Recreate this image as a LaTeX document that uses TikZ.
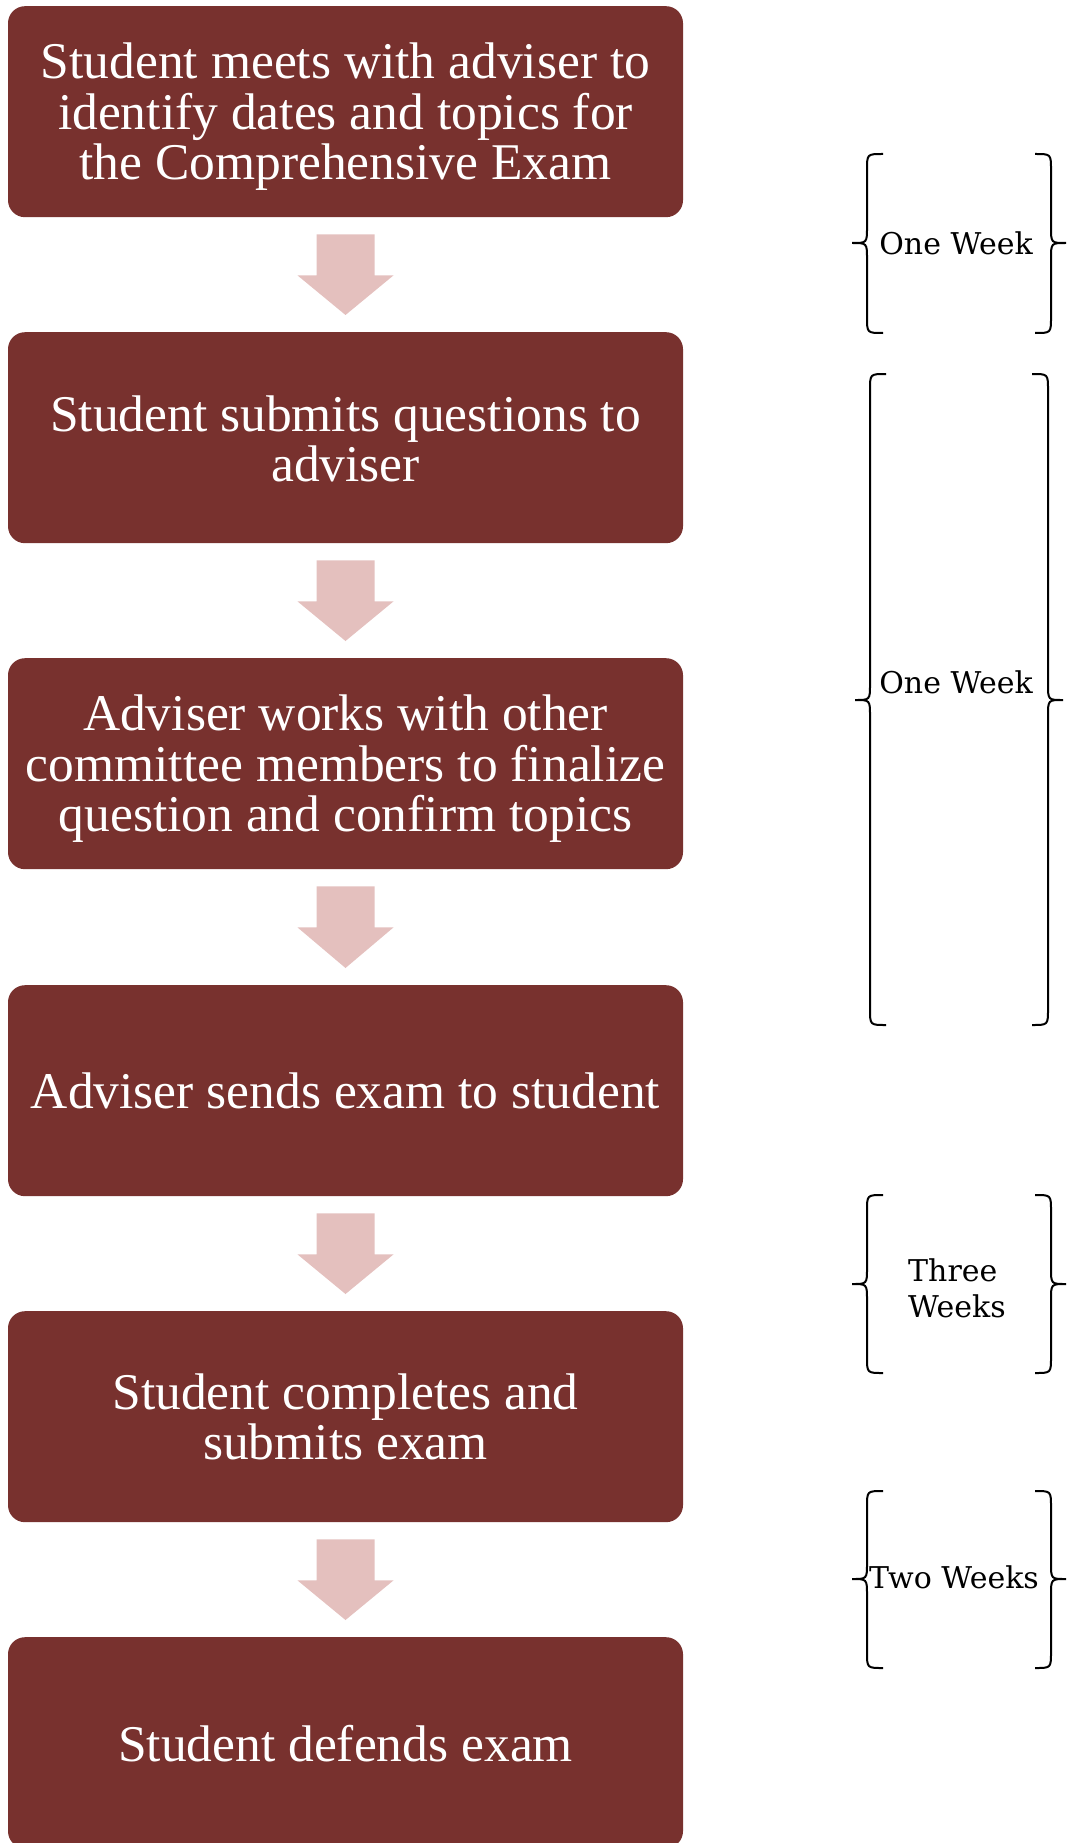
\documentclass[tikz,border=0pt]{standalone}
\usepackage{fontspec}
\setmainfont{Liberation Serif}
\newfontfamily\bracefont{DejaVu Serif}
\usetikzlibrary{calc}
\definecolor{boxred}{RGB}{120,49,46}
\definecolor{arrowpink}{RGB}{228,192,190}
\tikzset{
  stepbox/.style={fill=boxred, draw=none, rounded corners=17pt, minimum width=675pt,
    minimum height=211pt, inner sep=0pt, anchor=north},
  boxtext/.style={text=white, align=center, inner sep=0pt,
    font=\fontsize{51.5}{50.5}\selectfont},
  bracelabel/.style={font=\bracefont\fontsize{30}{36}\selectfont, inner sep=0pt, anchor=base},
  braceline/.style={line width=2pt, black},
}
\newcommand\blockarrow[2]{%
  \fill[arrowpink] ($(#1.south)+(-29,17)$) -- ($(#1.south)+(29,17)$) -- ($(#1.south)+(29,58)$)
    -- ($(#1.south)+(48,58)$) -- ($(#2.north)+(0,-17)$) -- ($(#1.south)+(-48,58)$)
    -- ($(#1.south)+(-29,58)$) -- cycle;}
\newcommand\leftbr[4]{%
  \draw[braceline] ({#1+16},#2) .. controls (#1,#2) .. (#1,{#2+16}) -- (#1,{#3-16})
    .. controls (#1,#3) .. ({#1-15},#3) .. controls (#1,#3) .. (#1,{#3+16})
    -- (#1,{#4-16}) .. controls (#1,#4) .. ({#1+16},#4);}
\newcommand\rightbr[4]{%
  \draw[braceline] ({#1-16},#2) .. controls (#1,#2) .. (#1,{#2+16}) -- (#1,{#3-16})
    .. controls (#1,#3) .. ({#1+15},#3) .. controls (#1,#3) .. (#1,{#3+16})
    -- (#1,{#4-16}) .. controls (#1,#4) .. ({#1-16},#4);}
\begin{document}
\begin{tikzpicture}[x=1pt,y=-1pt]
\useasboundingbox (0,0) rectangle (1067,1843);
\clip (0,0) rectangle (1067,1843);
\node[stepbox] (b1) at (345.5,6) {};
\node[stepbox] (b2) at (345.5,332) {};
\node[stepbox] (b3) at (345.5,658) {};
\node[stepbox] (b4) at (345.5,985) {};
\node[stepbox] (b5) at (345.5,1311) {};
\node[stepbox] (b6) at (345.5,1637) {};
\node[boxtext, yshift=-5pt] (t1) at (b1.center) {Student meets with adviser to\\identify dates and topics for\\the Comprehensive Exam};
\node[boxtext, yshift=-1pt] (t2) at (b2.center) {Student submits questions to\\adviser};
\node[boxtext, yshift=-5pt] (t3) at (b3.center) {Adviser works with other\\committee members to finalize\\question and confirm topics};
\node[boxtext] (t4) at (b4.center) {Adviser sends exam to student};
\node[boxtext] (t5) at (b5.center) {Student completes and\\submits exam};
\node[boxtext, yshift=-1pt] (t6) at (b6.center) {Student defends exam};
\blockarrow{b1}{b2}
\blockarrow{b2}{b3}
\blockarrow{b3}{b4}
\blockarrow{b4}{b5}
\blockarrow{b5}{b6}
% braces
\leftbr{867}{154}{243}{333}
\rightbr{1051}{154}{243}{333}
\node[bracelabel] (l1) at (956,255) {One Week};
\leftbr{870}{374}{700}{1025}
\rightbr{1048}{374}{700}{1025}
\node[bracelabel] (l2) at (956,693) {One Week};
\leftbr{867}{1195}{1284}{1373}
\rightbr{1051}{1195}{1284}{1373}
\node[bracelabel, anchor=base west] (l3a) at (908,1281) {Three};
\node[bracelabel, anchor=base west] (l3b) at (908,1317) {Weeks};
\leftbr{867}{1491}{1579}{1668}
\rightbr{1051}{1491}{1579}{1668}
\node[bracelabel] (l4) at (954,1588) {Two Weeks};
\end{tikzpicture}
\end{document}
